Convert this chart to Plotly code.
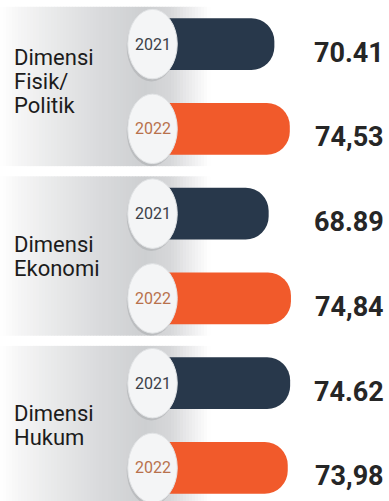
import plotly.graph_objects as go

# --- data -------------------------------------------------------------
groups = [["Dimensi", "Fisik/", "Politik"], ["Dimensi", "Ekonomi"], ["Dimensi", "Hukum"]]
years = ["2021", "2022"]
values_2021 = [70.41, 68.89, 74.62]
values_2022 = [74.53, 74.84, 73.98]
labels_2021 = ["70.41", "68.89", "74.62"]
labels_2022 = ["74,53", "74,84", "73,98"]

# --- styling ----------------------------------------------------------
W, H = 389, 501
X_RANGE = [-2.8, 101]
Y_RANGE = [5.39, -0.52]
ROW_PX = 84.8           # pixel height of one bar row
BADGE_X = 37.9          # centre of the year badge on the value axis
BAR_START = 33          # bars are drawn from here (hidden under the badge)
BAR_COLORS = {"2021": "#28384b", "2022": "#f15a2b"}
YEAR_TEXT = {"2021": "#3b4047", "2022": "#b8714c"}

rows_2021 = [2 * g for g in range(len(groups))]
rows_2022 = [2 * g + 1 for g in range(len(groups))]

fig = go.Figure()
for year, rows, vals in [("2021", rows_2021, values_2021), ("2022", rows_2022, values_2022)]:
    fig.add_trace(go.Bar(
        y=rows,
        x=[v - BAR_START for v in vals],
        base=BAR_START,
        orientation="h",
        width=0.61,
        marker=dict(color=BAR_COLORS[year], line=dict(width=0)),
        name=year,
        hoverinfo="skip",
    ))

shapes = []

# grey gradient panel behind each group (horizontal fade built from thin strips)
stops = [(0, (255, 255, 255)), (18, (246, 246, 246)), (60, (230, 231, 232)),
         (105, (216, 217, 219)), (145, (205, 207, 209)), (170, (214, 215, 217)),
         (190, (236, 236, 237)), (210, (255, 255, 255))]


def grad(px):
    for (a, ca), (b, cb) in zip(stops, stops[1:]):
        if a <= px <= b:
            t = (px - a) / (b - a)
            return "rgb(%d,%d,%d)" % tuple(round(ca[k] + (cb[k] - ca[k]) * t) for k in range(3))
    return "rgb(255,255,255)"


STEP = 3
for g in range(len(groups)):
    y0, y1 = 2 * g - 0.44, 2 * g + 1.44
    for px in range(0, 210, STEP):
        shapes.append(dict(
            type="rect", xref="paper", yref="y",
            x0=px / W, x1=(px + STEP + 0.6) / W, y0=y0, y1=y1,
            fillcolor=grad(px + STEP / 2), line=dict(width=0), layer="below",
        ))

# year badges
for rows in (rows_2021, rows_2022):
    for r in rows:
        shapes.append(dict(
            type="circle", xref="x", yref="y",
            x0=BADGE_X - 6.9, x1=BADGE_X + 6.3, y0=r - 0.38, y1=r + 0.44,
            fillcolor="rgba(150,152,156,0.35)", line=dict(width=0), layer="above",
        ))
        shapes.append(dict(
            type="circle", xref="x", yref="y",
            x0=BADGE_X - 6.6, x1=BADGE_X + 6.6, y0=r - 0.41, y1=r + 0.41,
            fillcolor="#f4f5f6", line=dict(color="#e2e4e6", width=1), layer="above",
        ))

annotations = []
for year, rows, labels in [("2021", rows_2021, labels_2021), ("2022", rows_2022, labels_2022)]:
    for r, lab in zip(rows, labels):
        annotations.append(dict(
            x=BADGE_X, y=r, xref="x", yref="y", text=year, showarrow=False,
            font=dict(family="Roboto", size=16, color=YEAR_TEXT[year]),
        ))
        annotations.append(dict(
            x=0.992, y=r + 0.1, xref="paper", yref="y", text="<b>%s</b>" % lab,
            showarrow=False, xanchor="right", yanchor="middle",
            font=dict(family="Roboto", size=27, color="#262626"),
        ))

# group names, one annotation per line for tight leading
LINE_PX = 24
for g, lines in enumerate(groups):
    centre = 2 * g + 0.5
    shift = -5 if len(lines) > 2 else 0
    for k, line in enumerate(lines):
        off_px = (k - (len(lines) - 1) / 2) * LINE_PX + shift
        annotations.append(dict(
            x=0.03, y=centre + off_px / ROW_PX, xref="paper", yref="y", text=line,
            showarrow=False, xanchor="left", yanchor="middle", align="left",
            font=dict(family="Roboto", size=22, color="#1c1c1c"),
        ))

fig.update_layout(
    width=W, height=H,
    margin=dict(l=0, r=0, t=0, b=0),
    paper_bgcolor="white", plot_bgcolor="white",
    showlegend=False,
    barcornerradius="45%",
    xaxis=dict(range=X_RANGE, visible=False, fixedrange=True),
    yaxis=dict(range=Y_RANGE, visible=False, fixedrange=True),
    shapes=shapes,
    annotations=annotations,
)

fig.write_html("out.html", config={"displayModeBar": False})
